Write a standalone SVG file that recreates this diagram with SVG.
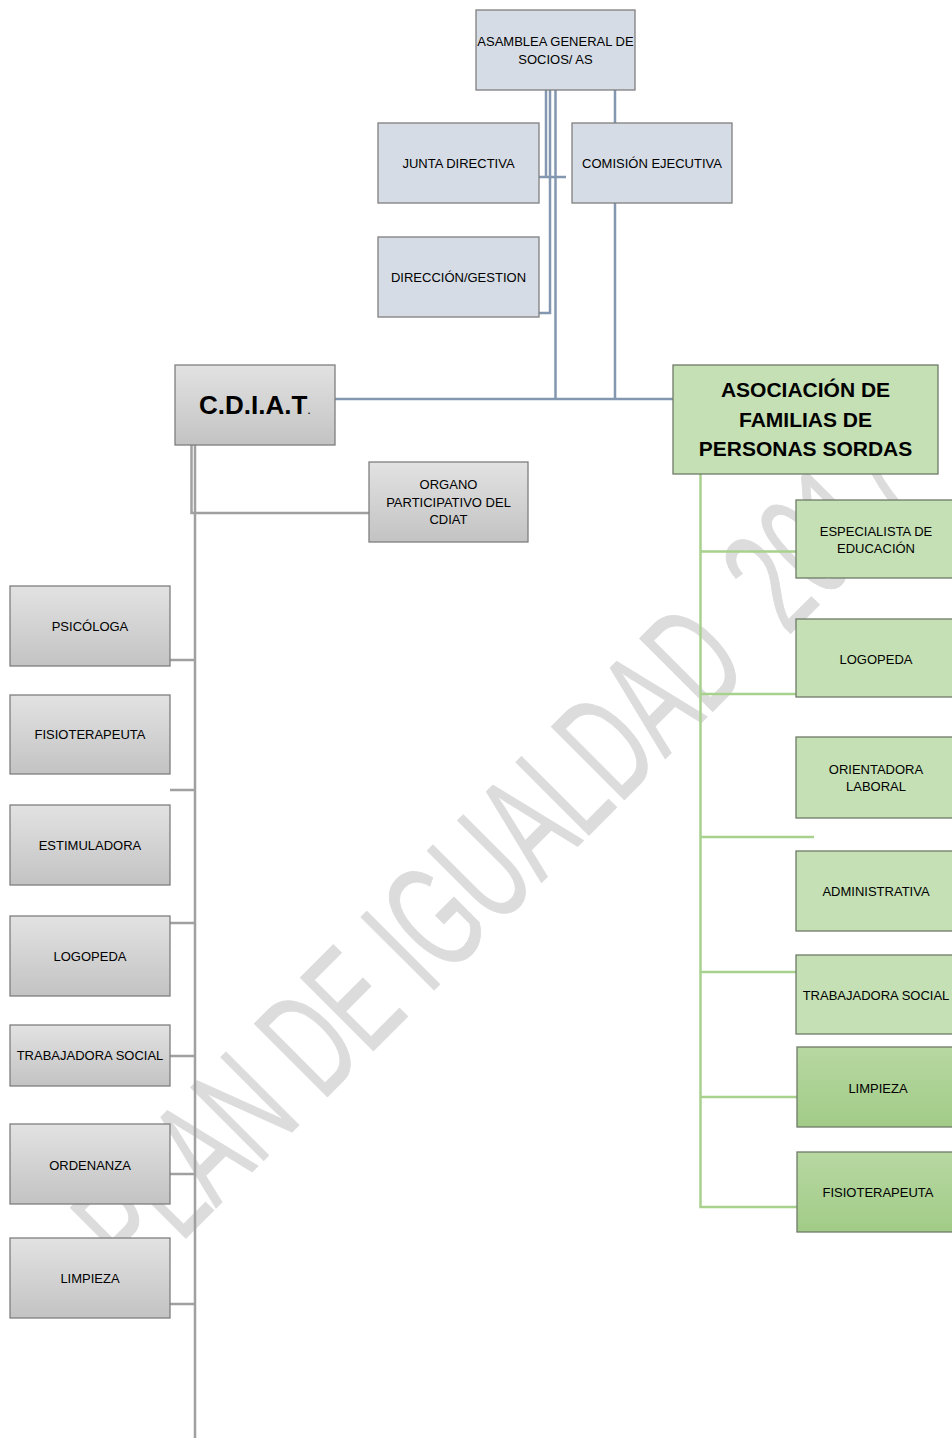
<svg xmlns="http://www.w3.org/2000/svg" width="952" height="1438" viewBox="0 0 952 1438">
<defs>
<linearGradient id="gGray" x1="0" y1="0" x2="0" y2="1">
<stop offset="0" stop-color="#e2e2e2"/><stop offset="1" stop-color="#c3c3c3"/>
</linearGradient>
<linearGradient id="gGreen" x1="0" y1="0" x2="0" y2="1">
<stop offset="0" stop-color="#b7d8a2"/><stop offset="1" stop-color="#a2cb87"/>
</linearGradient>
<style>
.t{font-family:"Liberation Sans",Arial,sans-serif;font-size:13px;fill:#000;text-anchor:middle}
.blue{fill:#d6dce5;stroke:#7f7f7f;stroke-width:1.3}
.gray{fill:url(#gGray);stroke:#7f7f7f;stroke-width:1.3}
.green{fill:#c5e0b4;stroke:#6f7a68;stroke-width:1.3}
.green2{fill:url(#gGreen);stroke:#6f7a68;stroke-width:1.3}
.cb{fill:none;stroke:#8497b0;stroke-width:2.5}
.cg{fill:none;stroke:#a0a0a0;stroke-width:2.5}
.cv{fill:none;stroke:#a9d18e;stroke-width:2.5}
.wm{font-family:"Liberation Sans",Arial,sans-serif;font-size:150px;fill:#dcdcdc;stroke:#dcdcdc;stroke-width:1;stroke-linejoin:round}
</style>
</defs>
<rect width="952" height="1438" fill="#fff"/>
<g id="watermark">
<text class="wm" transform="translate(138,1286) rotate(-45) scale(0.6,1)">PLAN DE IGUALDAD<tspan dx="80">2017</tspan></text>
</g>
<g id="connectors">
<path class="cb" d="M546,90 V177 M539,177 H566 M550,90 V313 H539 M555.5,90 V399 M615,90 V123 M615,203 V399 M335,399 H673"/>
<path class="cg" d="M195,445 V1438 M191.5,445 V513 H369 M170,660 H195 M170,790 H195 M170,923 H195 M170,1056 H195 M170,1174 H195 M170,1304 H195"/>
<path class="cv" d="M700.5,474 V1207 H797 M700.5,551.5 H796 M700.5,694 H796 M700.5,837 H814 M700.5,972 H796 M700.5,1097 H797"/>
</g>
<g id="asamblea"><rect class="blue" x="476" y="10" width="159" height="80"/><text class="t" x="555.5" y="45.5">ASAMBLEA GENERAL DE</text><text class="t" x="555.5" y="63.5">SOCIOS/ AS</text></g>
<g id="junta"><rect class="blue" x="378" y="123" width="161" height="80"/><text class="t" x="458.5" y="167.5">JUNTA DIRECTIVA</text></g>
<g id="comision"><rect class="blue" x="572" y="123" width="160" height="80"/><text class="t" x="652" y="167.5">COMISIÓN EJECUTIVA</text></g>
<g id="direccion"><rect class="blue" x="378" y="237" width="161" height="80"/><text class="t" x="458.5" y="281.5">DIRECCIÓN/GESTION</text></g>
<g id="cdiat"><rect class="gray" x="175" y="365" width="160" height="80"/><text x="255" y="414" style="font-family:'Liberation Sans',Arial,sans-serif;text-anchor:middle"><tspan font-size="26" font-weight="bold">C.D.I.A.T</tspan><tspan font-size="13">.</tspan></text></g>
<g id="organo"><rect class="gray" x="369" y="462" width="159" height="80"/><text class="t" x="448.5" y="488.5">ORGANO</text><text class="t" x="448.5" y="506.5">PARTICIPATIVO DEL</text><text class="t" x="448.5" y="523.5">CDIAT</text></g>
<g id="asociacion"><rect class="green" x="673" y="365" width="265" height="109"/><g style="font-family:'Liberation Sans',Arial,sans-serif;font-size:21px;font-weight:bold;text-anchor:middle"><text x="805.5" y="396.5">ASOCIACIÓN DE</text><text x="805.5" y="426.5">FAMILIAS DE</text><text x="805.5" y="455.5">PERSONAS SORDAS</text></g></g>
<g id="psicologa"><rect class="gray" x="10" y="586" width="160" height="80"/><text class="t" x="90" y="630.5">PSICÓLOGA</text></g>
<g id="fisio-l"><rect class="gray" x="10" y="695" width="160" height="79"/><text class="t" x="90" y="738.5">FISIOTERAPEUTA</text></g>
<g id="estimuladora"><rect class="gray" x="10" y="805" width="160" height="80"/><text class="t" x="90" y="849.5">ESTIMULADORA</text></g>
<g id="logopeda-l"><rect class="gray" x="10" y="916" width="160" height="80"/><text class="t" x="90" y="960.5">LOGOPEDA</text></g>
<g id="trabajadora-l"><rect class="gray" x="10" y="1025" width="160" height="61"/><text class="t" x="90" y="1059.5">TRABAJADORA SOCIAL</text></g>
<g id="ordenanza"><rect class="gray" x="10" y="1124" width="160" height="80"/><text class="t" x="90" y="1169.5">ORDENANZA</text></g>
<g id="limpieza-l"><rect class="gray" x="10" y="1238" width="160" height="80"/><text class="t" x="90" y="1282.5">LIMPIEZA</text></g>
<g id="especialista"><rect class="green" x="796" y="500" width="160" height="78"/><text class="t" x="876" y="535.5">ESPECIALISTA DE</text><text class="t" x="876" y="552.5">EDUCACIÓN</text></g>
<g id="logopeda-r"><rect class="green" x="796" y="619" width="160" height="78"/><text class="t" x="876" y="663.5">LOGOPEDA</text></g>
<g id="orientadora"><rect class="green" x="796" y="737" width="160" height="81"/><text class="t" x="876" y="773.5">ORIENTADORA</text><text class="t" x="876" y="790.5">LABORAL</text></g>
<g id="administrativa"><rect class="green" x="796" y="851" width="160" height="80"/><text class="t" x="876" y="895.5">ADMINISTRATIVA</text></g>
<g id="trabajadora-r"><rect class="green" x="796" y="955" width="160" height="79"/><text class="t" x="876" y="999.5">TRABAJADORA SOCIAL</text></g>
<g id="limpieza-r"><rect class="green2" x="797" y="1047" width="160" height="80"/><text class="t" x="878" y="1092.5">LIMPIEZA</text></g>
<g id="fisio-r"><rect class="green2" x="797" y="1152" width="160" height="80"/><text class="t" x="878" y="1196.5">FISIOTERAPEUTA</text></g>
</svg>
